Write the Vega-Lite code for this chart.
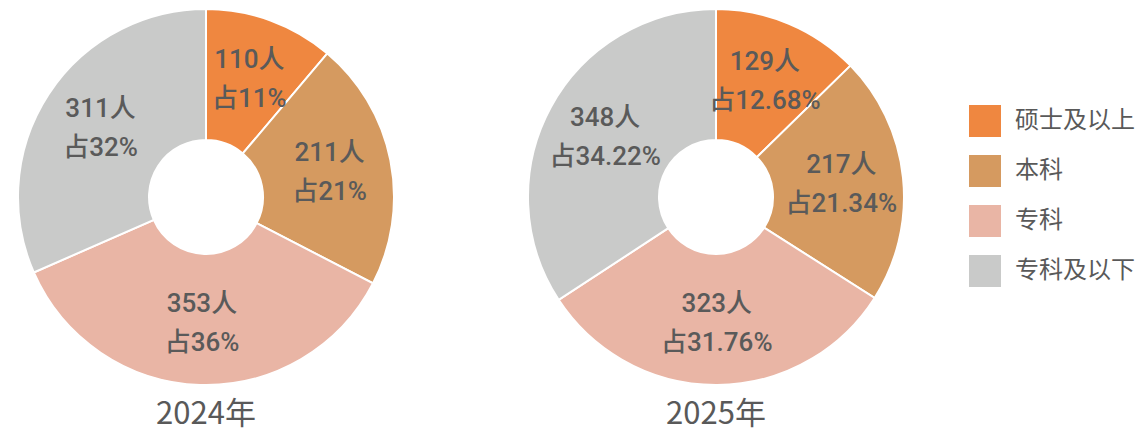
{
  "$schema": "https://vega.github.io/schema/vega-lite/v6.json",
  "background": "white",
  "padding": 5,
  "datasets": {
    "d2024": [
      {"cat": "硕士及以上", "k": 1, "n": 110, "pct": "11%"},
      {"cat": "本科", "k": 2, "n": 211, "pct": "21%"},
      {"cat": "专科", "k": 3, "n": 353, "pct": "36%"},
      {"cat": "专科及以下", "k": 4, "n": 311, "pct": "32%"}
    ],
    "d2025": [
      {"cat": "硕士及以上", "k": 1, "n": 129, "pct": "12.68%"},
      {"cat": "本科", "k": 2, "n": 217, "pct": "21.34%"},
      {"cat": "专科", "k": 3, "n": 323, "pct": "31.76%"},
      {"cat": "专科及以下", "k": 4, "n": 348, "pct": "34.22%"}
    ]
  },
  "spacing": 108,
  "hconcat": [
    {
      "width": 402,
      "height": 384,
      "data": {"name": "d2024"},
      "transform": [{"calculate": "datum.n + '人\\n占' + datum.pct", "as": "label"}],
      "title": {"text": "2024年", "orient": "bottom", "anchor": "middle", "offset": 11, "fontSize": 31, "fontWeight": "normal", "color": "#595959", "font": "Noto Sans CJK SC"},
      "layer": [
        {
          "mark": {"type": "arc", "outerRadius": 188, "innerRadius": 57, "stroke": "white", "strokeWidth": 2},
          "encoding": {
            "theta": {"field": "n", "type": "quantitative", "stack": true},
            "order": {"field": "k", "type": "quantitative"},
            "color": {"field": "cat", "type": "nominal", "scale": {"domain": ["硕士及以上", "本科", "专科", "专科及以下"], "range": ["#EF8740", "#D59A60", "#E9B5A5", "#C9CAC9"]},
              "legend": {"title": null, "orient": "none", "legendX": 964, "legendY": 100, "symbolType": "square", "symbolSize": 1024, "symbolStrokeWidth": 0, "rowPadding": 18, "labelFontSize": 24, "labelFont": "Noto Sans CJK SC", "labelColor": "#595959", "labelOffset": 14}}
          }
        },
        {
          "mark": {"type": "text", "radius": 126, "dy": -19, "lineBreak": "\n", "fontSize": 26, "fontWeight": 500, "font": "Roboto, Noto Sans CJK SC", "color": "#5a5a5a", "lineHeight": 39, "baseline": "middle"},
          "encoding": {
            "theta": {"field": "n", "type": "quantitative", "stack": true},
            "order": {"field": "k", "type": "quantitative"},
            "text": {"field": "label", "type": "nominal"}
          }
        }
      ]
    },
    {
      "width": 402,
      "height": 384,
      "data": {"name": "d2025"},
      "transform": [{"calculate": "datum.n + '人\\n占' + datum.pct", "as": "label"}],
      "title": {"text": "2025年", "orient": "bottom", "anchor": "middle", "offset": 11, "fontSize": 31, "fontWeight": "normal", "color": "#595959", "font": "Noto Sans CJK SC"},
      "layer": [
        {
          "mark": {"type": "arc", "outerRadius": 188, "innerRadius": 57, "stroke": "white", "strokeWidth": 2},
          "encoding": {
            "theta": {"field": "n", "type": "quantitative", "stack": true},
            "order": {"field": "k", "type": "quantitative"},
            "color": {"field": "cat", "type": "nominal", "scale": {"domain": ["硕士及以上", "本科", "专科", "专科及以下"], "range": ["#EF8740", "#D59A60", "#E9B5A5", "#C9CAC9"]}}
          }
        },
        {
          "mark": {"type": "text", "radius": 126, "dy": -19, "lineBreak": "\n", "fontSize": 26, "fontWeight": 500, "font": "Roboto, Noto Sans CJK SC", "color": "#5a5a5a", "lineHeight": 39, "baseline": "middle"},
          "encoding": {
            "theta": {"field": "n", "type": "quantitative", "stack": true},
            "order": {"field": "k", "type": "quantitative"},
            "text": {"field": "label", "type": "nominal"}
          }
        }
      ]
    }
  ],
  "resolve": {"scale": {"color": "shared"}},
  "config": {"view": {"stroke": null}}
}
